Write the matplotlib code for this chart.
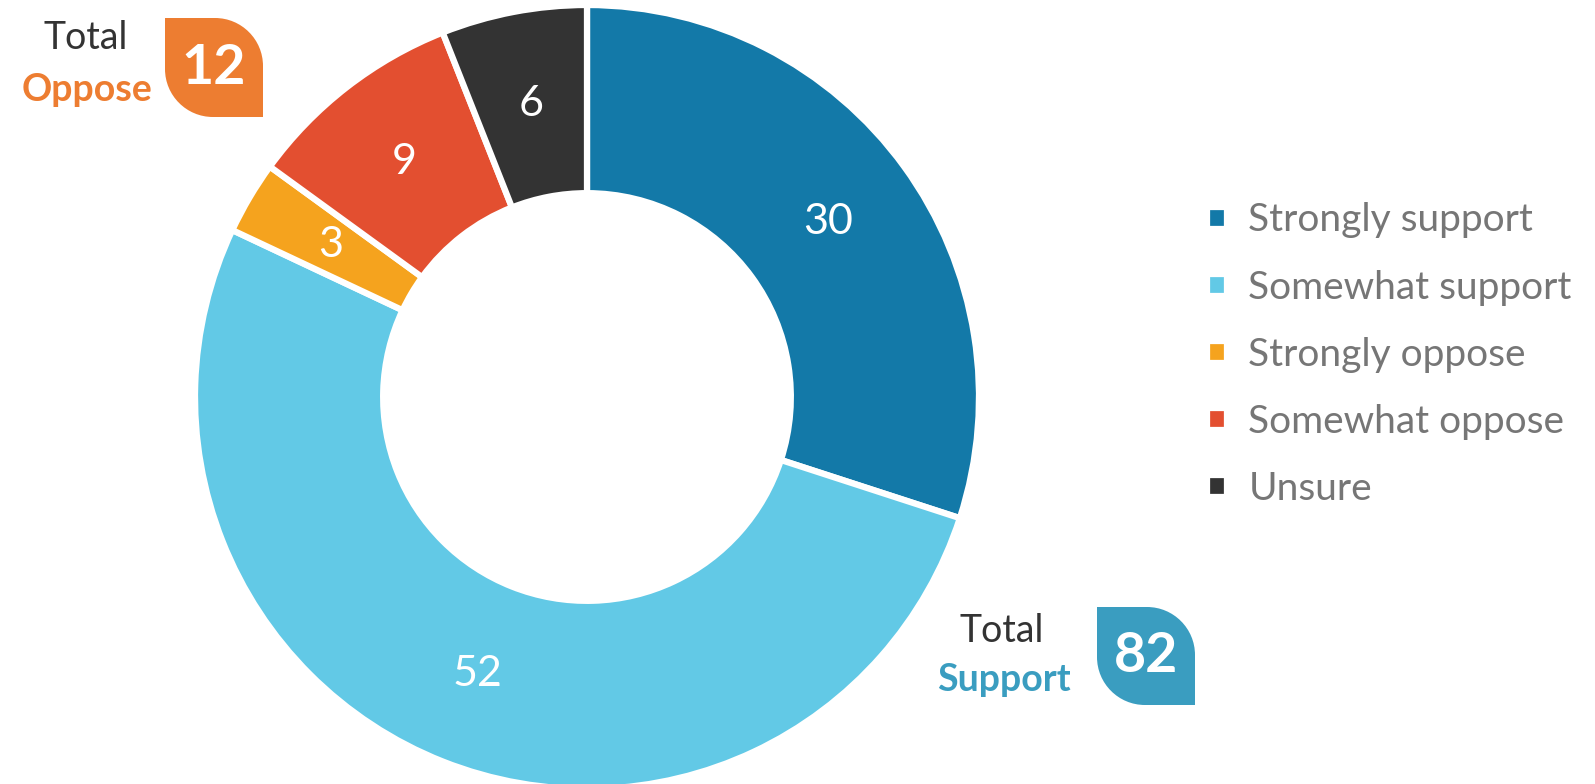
import matplotlib.pyplot as plt
from matplotlib.path import Path
from matplotlib.patches import PathPatch

# survey shares (percent)
categories = ['Strongly support', 'Somewhat support', 'Strongly oppose',
              'Somewhat oppose', 'Unsure']
values = [30, 52, 3, 9, 6]
colors = ['#1379A8', '#62C9E6', '#F5A31E', '#E34F30', '#333333']

total_support = 82
total_oppose = 12

plt.rcParams['font.family'] = ['Lato', 'DejaVu Sans']

W, H = 1595, 784
fig = plt.figure(figsize=(W / 100, H / 100), dpi=100)

# donut
ax = fig.add_axes([195 / W, -5 / H, 784 / W, 784 / H])
wedges, texts = ax.pie(values, colors=colors, startangle=90, counterclock=False,
                       radius=1.0, labels=[str(v) for v in values],
                       labeldistance=0.76,
                       wedgeprops=dict(width=0.48, edgecolor='white', linewidth=4.5),
                       textprops=dict(color='white', fontsize=31))
for t in texts:
    t.set_ha('center')
    t.set_va('center')
ax.set_xlim(-1, 1)
ax.set_ylim(-1, 1)
ax.set_aspect('equal')
ax.axis('off')

leg = fig.legend(wedges, categories, loc='upper left',
                 bbox_to_anchor=(1188 / W, 1 - 183 / H), frameon=False,
                 fontsize=28, labelcolor='#767676', handlelength=0.5,
                 handleheight=0.5, handletextpad=0.55, labelspacing=0.80,
                 borderpad=0)

# overlay in pixel coords for the "Total" badges
ov = fig.add_axes([0, 0, 1, 1])
ov.set_xlim(0, W)
ov.set_ylim(H, 0)
ov.axis('off')


def leaf(x0, y0, x1, y1, r, color):
    k = 0.5523 * r
    verts = [(x0, y0), (x1 - r, y0),
             (x1 - r + k, y0), (x1, y0 + r - k), (x1, y0 + r),
             (x1, y1), (x0 + r, y1),
             (x0 + r - k, y1), (x0, y1 - r + k), (x0, y1 - r),
             (x0, y0)]
    codes = [Path.MOVETO, Path.LINETO,
             Path.CURVE4, Path.CURVE4, Path.CURVE4,
             Path.LINETO, Path.LINETO,
             Path.CURVE4, Path.CURVE4, Path.CURVE4,
             Path.CLOSEPOLY]
    ov.add_patch(PathPatch(Path(verts, codes), facecolor=color, edgecolor='none'))


leaf(165, 18, 263, 117, 48, '#ED7D31')
ov.text(214, 68, str(total_oppose), color='white', fontsize=40,
        fontweight='bold', ha='center', va='center')
ov.text(86, 38, 'Total', color='#333333', fontsize=27, ha='center', va='center')
ov.text(87, 90, 'Oppose', color='#ED7D31', fontsize=27, fontweight='bold',
        ha='center', va='center')

leaf(1097, 607, 1195, 705, 48, '#3A9DC0')
ov.text(1146, 656, str(total_support), color='white', fontsize=40,
        fontweight='bold', ha='center', va='center')
ov.text(1002, 631, 'Total', color='#333333', fontsize=27, ha='center', va='center')
ov.text(1004, 680, 'Support', color='#3A9DC0', fontsize=27, fontweight='bold',
        ha='center', va='center')

fig.savefig('out.png', dpi=100)
